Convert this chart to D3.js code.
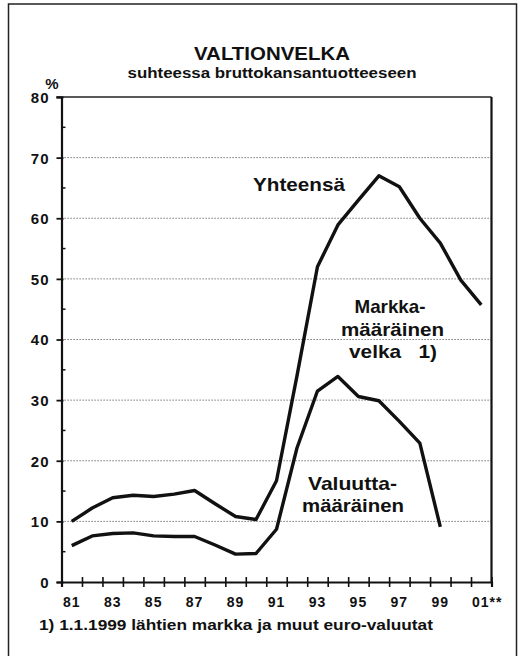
<!DOCTYPE html>
<html>
<head>
<meta charset="utf-8">
<script src="https://cdn.jsdelivr.net/npm/d3@7"></script>
<style>
  html, body { margin: 0; padding: 0; background: #fff; }
  svg { display: block; font-family: "Liberation Sans", Arial, Helvetica, sans-serif; font-weight: bold; }
  text { white-space: pre; }
</style>
</head>
<body>
<svg id="chart" width="520" height="656"></svg>
<script>
// ---- data ----
const years = [1981,1982,1983,1984,1985,1986,1987,1988,1989,1990,1991,1992,1993,1994,1995,1996,1997,1998,1999,2000,2001];
const yhteensa = [10,12.2,13.9,14.3,14.1,14.5,15.1,12.9,10.8,10.3,16.7,34,52,58.9,63,67,65.2,60,55.9,49.8,45.7];
const valuuttaYears = [1981,1982,1983,1984,1985,1986,1987,1988,1989,1990,1991,1992,1993,1994,1995,1996,1997,1998,1999];
const valuutta = [6,7.6,8,8.1,7.6,7.5,7.5,6.1,4.6,4.7,8.7,22.1,31.5,33.9,30.6,29.9,26.5,22.9,9.1];
const xTickLabels = ["81","83","85","87","89","91","93","95","97","99","01**"];
const xLabelYears = [1981,1983,1985,1987,1989,1991,1993,1995,1997,1999,2001];
const yTicks = [0,10,20,30,40,50,60,70,80];
const yMinorTicks = [5,15,25,35,45,55,65,75];
const title = "VALTIONVELKA";
const subtitle = "suhteessa bruttokansantuotteeseen";
const footnote = "1) 1.1.1999 lähtien markka ja muut euro-valuutat";

const svg = d3.select("#chart");
const ink = "#111";

const x = d3.scaleLinear().domain([1980.5, 2001.5]).range([61.5, 491.5]);
const y = d3.scaleLinear().domain([0, 80]).range([582, 97]);

// outer frame
svg.append("rect").attr("x", 8.5).attr("y", 4).attr("width", 508).attr("height", 660)
  .attr("fill", "none").attr("stroke", "#222").attr("stroke-width", 1.5);

// titles
svg.append("text").attr("x", 272).attr("y", 60).attr("text-anchor", "middle")
  .attr("font-size", 18.5).attr("fill", ink).attr("textLength", 156).attr("lengthAdjust", "spacingAndGlyphs").text(title);
svg.append("text").attr("x", 272).attr("y", 78).attr("text-anchor", "middle")
  .attr("font-size", 14.5).attr("fill", ink).attr("textLength", 289).attr("lengthAdjust", "spacingAndGlyphs").text(subtitle);

// gridlines
svg.append("g").selectAll("line").data(yTicks.filter(d => d > 0 && d < 80)).join("line")
  .attr("x1", x(1980.5)).attr("x2", x(2001.5))
  .attr("y1", d => y(d)).attr("y2", d => y(d))
  .attr("stroke", "#555").attr("stroke-width", 1).attr("stroke-dasharray", "1.2,1.8");

// top and right frame of plot
svg.append("line").attr("x1", x(1980.5) - 5).attr("x2", x(2001.5)).attr("y1", y(80)).attr("y2", y(80))
  .attr("stroke", "#222").attr("stroke-width", 1.6);
svg.append("line").attr("x1", x(2001.5)).attr("x2", x(2001.5)).attr("y1", y(80)).attr("y2", y(0))
  .attr("stroke", "#111").attr("stroke-width", 2.2);

// y axis
const yAxis = d3.axisLeft(y).tickValues(yTicks).tickSize(5).tickPadding(8).tickFormat(d3.format("d"));
const gy = svg.append("g").attr("transform", `translate(${x(1980.5)},0)`).call(yAxis);
gy.select(".domain").attr("stroke", ink).attr("stroke-width", 2.2);
gy.selectAll(".tick line").attr("stroke", ink).attr("stroke-width", 1.8).attr("x2", -5).attr("x1", 2);
gy.selectAll(".tick text").attr("font-size", 15).attr("font-family", null).attr("fill", ink)
  .attr("letter-spacing", 1).attr("dy", "0.36em").attr("x", -12);
svg.append("g").selectAll("line").data(yMinorTicks).join("line")
  .attr("x1", x(1980.5)).attr("x2", x(1980.5) + 4)
  .attr("y1", d => y(d)).attr("y2", d => y(d)).attr("stroke", ink).attr("stroke-width", 1.5);

// % unit
svg.append("text").attr("x", 52).attr("y", 89).attr("text-anchor", "middle")
  .attr("font-size", 15).attr("fill", ink).text("%");

// x axis
const xTickVals = d3.range(0, 22).map(i => 1980.5 + i);
const xAxis = d3.axisBottom(x).tickValues(xTickVals).tickSize(5).tickFormat("");
const gx = svg.append("g").attr("transform", `translate(0,${y(0)})`).call(xAxis);
gx.select(".domain").attr("stroke", ink).attr("stroke-width", 2.2);
gx.selectAll(".tick line").attr("stroke", ink).attr("stroke-width", 1.6).attr("y1", -5).attr("y2", 5);
svg.append("g").selectAll("text").data(xLabelYears).join("text")
  .attr("x", (d, i) => x(d) + (i === xLabelYears.length - 1 ? 6 : 0))
  .attr("y", 607).attr("text-anchor", "middle")
  .attr("font-size", 14).attr("letter-spacing", 1).attr("fill", ink)
  .text((d, i) => xTickLabels[i]);

// lines
const line = d3.line().x(d => x(d[0])).y(d => y(d[1])).curve(d3.curveLinear);
svg.append("path").datum(years.map((yr, i) => [yr, yhteensa[i]]))
  .attr("d", line).attr("fill", "none").attr("stroke", ink).attr("stroke-width", 3.4)
  .attr("stroke-linejoin", "round").attr("stroke-linecap", "butt");
svg.append("path").datum(valuuttaYears.map((yr, i) => [yr, valuutta[i]]))
  .attr("d", line).attr("fill", "none").attr("stroke", ink).attr("stroke-width", 3.4)
  .attr("stroke-linejoin", "round").attr("stroke-linecap", "butt");

// labels
function lbl(txt, cx, by, len, fs) {
  svg.append("text").attr("x", cx).attr("y", by).attr("text-anchor", "middle")
    .attr("font-size", fs).attr("fill", ink)
    .attr("textLength", len).attr("lengthAdjust", "spacingAndGlyphs").text(txt);
}
lbl("Yhteensä", 299, 191, 92, 18.5);
lbl("Markka-", 390, 313, 71, 18.5);
lbl("määräinen", 392.5, 336, 103, 18.5);
lbl("velka   1)", 393, 358, 88, 18.5);
lbl("Valuutta-", 352.5, 490, 89, 18.5);
lbl("määräinen", 353, 512, 102, 18.5);

// footnote
svg.append("text").attr("x", 39).attr("y", 630).attr("font-size", 14).attr("fill", ink)
  .attr("textLength", 394).attr("lengthAdjust", "spacingAndGlyphs").text(footnote);
</script>
</body>
</html>
